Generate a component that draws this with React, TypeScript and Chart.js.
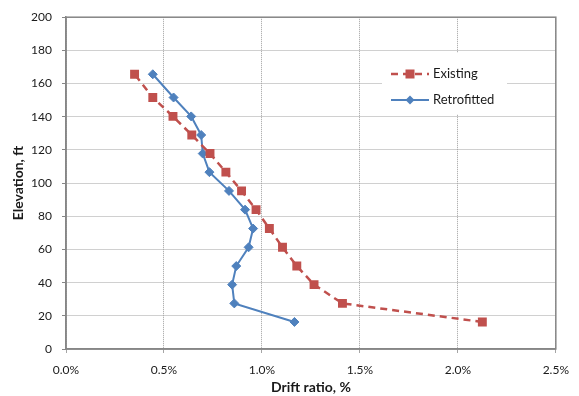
import React, { useEffect, useRef } from 'react';
import { Chart, registerables } from 'chart.js';

Chart.register(...registerables);

const elevations = [16.3, 27.5, 38.8, 50, 61.3, 72.6, 84.0, 95.3, 106.6, 117.8, 129.0, 140.2, 151.6, 165.6];
const existingDrift = [2.125, 1.411, 1.266, 1.178, 1.105, 1.038, 0.97, 0.896, 0.816, 0.735, 0.642, 0.546, 0.443, 0.35];
const retrofittedDrift = [1.166, 0.859, 0.848, 0.869, 0.932, 0.955, 0.914, 0.832, 0.732, 0.698, 0.69, 0.639, 0.549, 0.443];
const xTicks = [0, 0.5, 1.0, 1.5, 2.0, 2.5];
const yTicks = [0, 20, 40, 60, 80, 100, 120, 140, 160, 180, 200];
const seriesNames = ['Existing', 'Retrofitted'];
const xTitle = 'Drift ratio, %';
const yTitle = 'Elevation, ft';

const RED = '#C0504D';
const BLUE = '#4F81BD';
const AXIS = '#868686';
const GRID = '#a0a0a0';
const FONT = 'Lato, "Liberation Sans", sans-serif';

export default function App() {
  const ref = useRef<HTMLCanvasElement>(null);

  useEffect(() => {
    document.body.style.margin = '0';
    const canvas = ref.current;
    if (!canvas) return;

    const framePlugin = {
      id: 'frameAndLegend',
      beforeDatasetsDraw(chart: any) {
        const { ctx, chartArea } = chart;
        ctx.save();
        ctx.fillStyle = '#ffffff';
        ctx.fillRect(382, 53, 125, 61);
        ctx.strokeStyle = AXIS;
        ctx.lineWidth = 1.5;
        ctx.setLineDash([]);
        ctx.strokeRect(chartArea.left, chartArea.top, chartArea.right - chartArea.left, chartArea.bottom - chartArea.top);
        ctx.restore();
      },
      afterDraw(chart: any) {
        const { ctx } = chart;
        ctx.save();
        const lx0 = 391, lx1 = 429, mx = 410, tx = 433;
        const rows = [74, 100];
        ctx.strokeStyle = RED;
        ctx.lineWidth = 2.5;
        ctx.setLineDash([7, 5]);
        ctx.beginPath();
        ctx.moveTo(lx0, rows[0]);
        ctx.lineTo(lx1, rows[0]);
        ctx.stroke();
        ctx.setLineDash([]);
        ctx.fillStyle = RED;
        ctx.fillRect(mx - 4.5, rows[0] - 4.5, 9, 9);
        ctx.strokeStyle = BLUE;
        ctx.lineWidth = 2;
        ctx.beginPath();
        ctx.moveTo(lx0, rows[1]);
        ctx.lineTo(lx1, rows[1]);
        ctx.stroke();
        ctx.fillStyle = BLUE;
        ctx.beginPath();
        ctx.moveTo(mx - 4.5, rows[1]);
        ctx.lineTo(mx, rows[1] - 4.5);
        ctx.lineTo(mx + 4.5, rows[1]);
        ctx.lineTo(mx, rows[1] + 4.5);
        ctx.closePath();
        ctx.fill();
        ctx.fillStyle = '#1a1a1a';
        ctx.font = `13px ${FONT}`;
        ctx.textBaseline = 'middle';
        ctx.textAlign = 'left';
        ctx.fillText(seriesNames[0], tx, rows[0]);
        ctx.fillText(seriesNames[1], tx, rows[1]);
        ctx.restore();
      },
    };

    const gridOpts: any = {
      color: GRID,
      tickLength: 4,
      tickColor: AXIS,
      tickBorderDash: [1, 0],
      tickWidth: 1,
    };

    const chart = new Chart(canvas, {
      type: 'scatter',
      data: {
        datasets: [
          {
            label: seriesNames[0],
            data: elevations.map((e, i) => ({ x: existingDrift[i], y: e })),
            showLine: true,
            borderColor: RED,
            backgroundColor: RED,
            borderWidth: 2.5,
            borderDash: [7, 5],
            pointStyle: 'rect',
            pointRadius: 6.3,
            pointBorderWidth: 0,
            pointBackgroundColor: RED,
          },
          {
            label: seriesNames[1],
            data: elevations.map((e, i) => ({ x: retrofittedDrift[i], y: e })),
            showLine: true,
            borderColor: BLUE,
            backgroundColor: BLUE,
            borderWidth: 2,
            pointStyle: 'rectRot',
            pointRadius: 4.5,
            pointBorderWidth: 1,
            pointBackgroundColor: BLUE,
          },
        ],
      },
      options: {
        responsive: false,
        animation: false,
        layout: { padding: { top: 10, right: 20, left: 0, bottom: 0 } },
        plugins: {
          legend: { display: false },
          tooltip: { enabled: false },
        },
        scales: {
          x: {
            type: 'linear',
            min: 0,
            max: 2.5,
            afterBuildTicks: (scale: any) => {
              scale.ticks = xTicks.map((v) => ({ value: v }));
            },
            afterFit: (scale: any) => {
              scale.height = 47;
            },
            ticks: {
              padding: 10,
              color: '#1a1a1a',
              font: { family: FONT, size: 12 },
              maxRotation: 0,
              callback: (v: any) => Number(v).toFixed(1) + '%',
            },
            grid: gridOpts,
            border: { display: true, color: AXIS, width: 1.5, dash: [1, 1] },
            title: {
              display: true,
              text: xTitle,
              color: '#1a1a1a',
              font: { family: FONT, size: 14, weight: 'bold' },
              padding: { top: 0, bottom: 0 },
            },
          },
          y: {
            type: 'linear',
            min: 0,
            max: 200,
            afterBuildTicks: (scale: any) => {
              scale.ticks = yTicks.map((v) => ({ value: v }));
            },
            afterFit: (scale: any) => {
              scale.width = 66;
            },
            ticks: {
              padding: 10,
              color: '#1a1a1a',
              font: { family: FONT, size: 12 },
            },
            grid: gridOpts,
            border: { display: true, color: AXIS, width: 1.5, dash: [1, 1] },
            title: {
              display: true,
              text: yTitle,
              color: '#1a1a1a',
              font: { family: FONT, size: 14, weight: 'bold' },
              padding: { top: 10, bottom: 0 },
            },
          },
        },
      },
      plugins: [framePlugin],
    } as any);

    return () => chart.destroy();
  }, []);

  return (
    <div style={{ width: 579, height: 396, position: 'relative' }}>
      <canvas ref={ref} width={579} height={396} />
    </div>
  );
}
